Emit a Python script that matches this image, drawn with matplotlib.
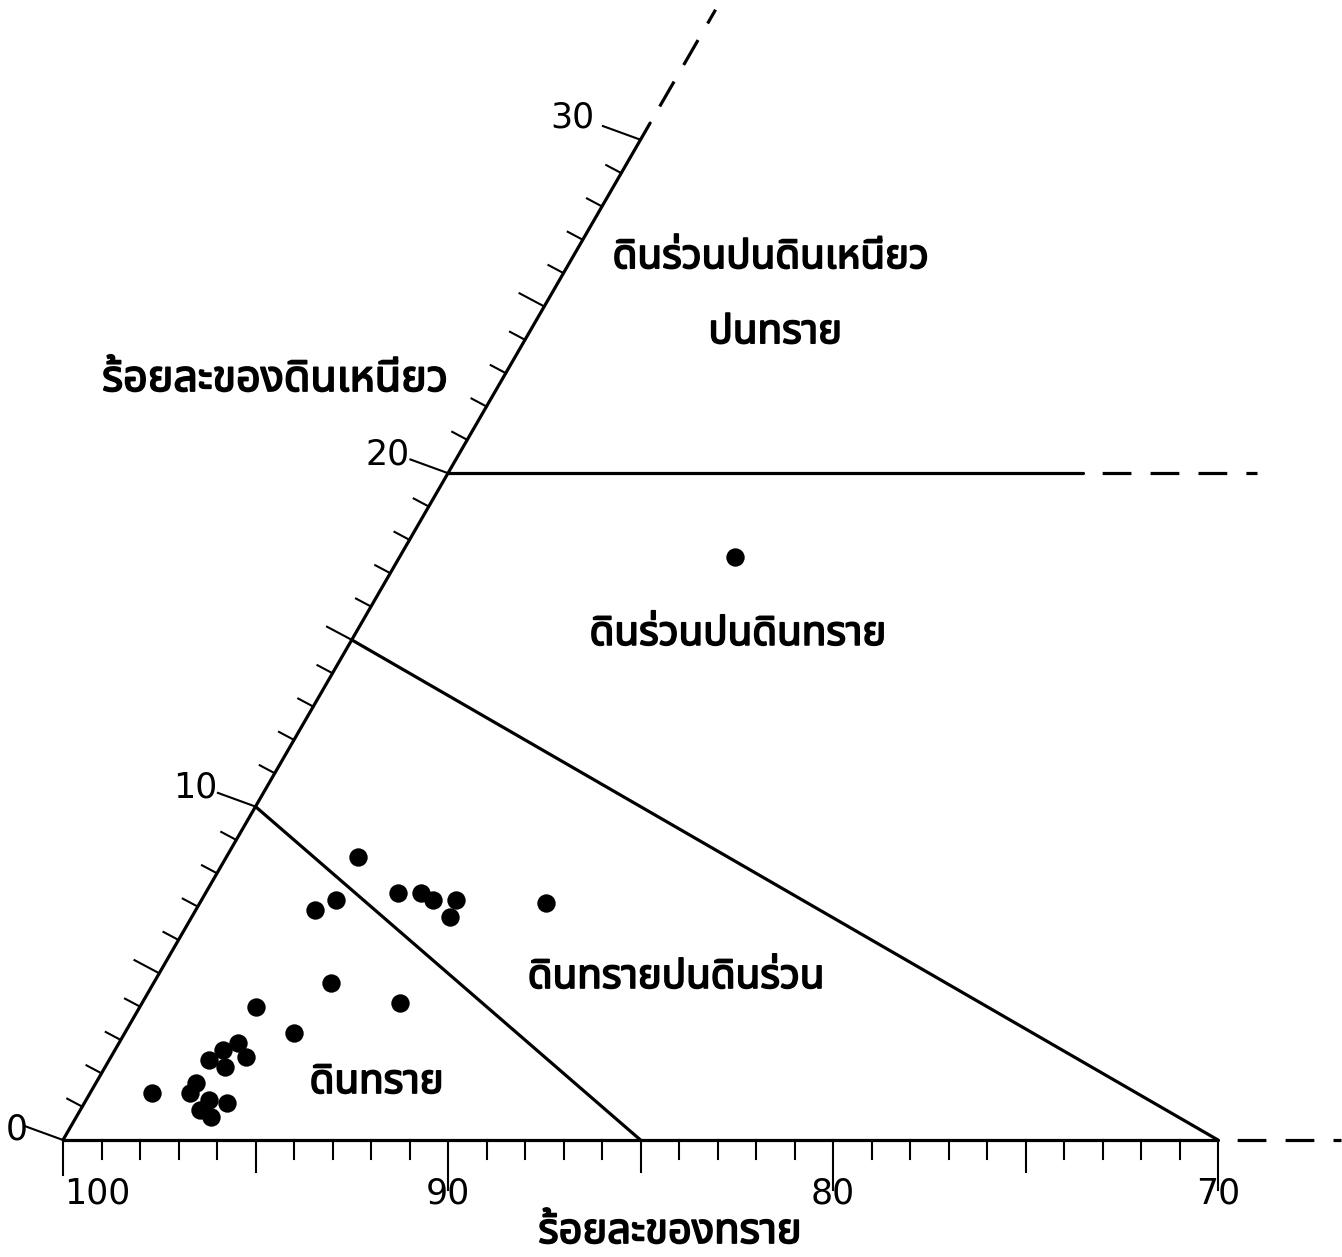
import numpy as np
import matplotlib
matplotlib.use("Agg")
import matplotlib.pyplot as plt
import matplotlib.patheffects as pe
from matplotlib import font_manager
from matplotlib.ft2font import FT2Font

# soil samples: percent sand and percent clay
sand = [73.8, 88.1, 90.0, 89.3, 87.6, 87.0, 86.8, 86.2, 86.6, 83.9,
        90.7, 89.2, 93.0, 92.4, 94.0, 94.5, 95.0, 94.0, 94.7, 97.0,
        95.7, 96.0, 95.6, 96.0, 95.8, 95.2]
clay = [17.5, 8.5, 6.9, 7.2, 7.4, 7.4, 7.2, 7.2, 6.7, 7.1,
        4.7, 4.1, 4.0, 3.2, 2.9, 2.7, 2.4, 2.5, 2.2, 1.4,
        1.7, 1.4, 1.2, 0.9, 0.7, 1.1]

# texture class boundaries, (sand, clay) end points
sand_boundary = [(90, 10), (85, 0)]
loamy_sand_boundary = [(85, 15), (70, 0)]
clay20_solid = [(80, 20), (63.5, 20)]
clay20_dashed = [(63.5, 20), (59.0, 20)]

sand_ticks = [100, 90, 80, 70]
clay_ticks = [0, 10, 20, 30]

class_labels = [
    ("ดินร่วนปนดินเหนียว", 68.4, 26.45),
    ("ปนทราย", 69.4, 24.2),
    ("ดินร่วนปนดินทราย", 74.9, 15.15),
    ("ดินทรายปนดินร่วน", 81.65, 4.86),
    ("ดินทราย", 91.0, 1.71),
]
x_title = "ร้อยละของทราย"
y_title = "ร้อยละของดินเหนียว"

PX = 1 / 38.5  # one output pixel in data units


def tern(s, c):
    s = np.asarray(s, dtype=float)
    c = np.asarray(c, dtype=float)
    return 100 - s - 0.5 * c, c * np.sqrt(3) / 2


def thai_font():
    names = []
    for f in font_manager.fontManager.ttflist:
        try:
            if 0x0E01 in FT2Font(f.fname).get_charmap():
                names.append(f.name)
        except Exception:
            pass
    for pref in ("Noto Sans Thai", "Noto Sans Thai UI", "Loma", "Garuda", "Waree"):
        if pref in names:
            return pref
    return names[0] if names else "DejaVu Sans"


THAI = thai_font()
heavy = [pe.withStroke(linewidth=1.3, foreground="black")]

fig = plt.figure(figsize=(13.42, 12.57), dpi=100)
ax = fig.add_axes([0, 0, 1, 1])
ax.set_xlim(-63 * PX, (1342 - 63) * PX)
ax.set_ylim(-117 * PX, 1140 * PX)
ax.set_aspect("equal")
ax.axis("off")

line_kw = dict(color="black", lw=2.3, solid_capstyle="round")
dash_kw = dict(color="black", lw=2.3, linestyle=(9, (9, 6)))

# frame: left (clay) edge and bottom (sand) edge
c_edge = np.array([0, 30.5])
ax.plot(*tern(100 - c_edge, c_edge), **line_kw)
c_edge = np.array([30.5, 33.9])
ax.plot(*tern(100 - c_edge, c_edge), **dash_kw)
ax.plot(*tern([100, 70], [0, 0]), **line_kw)
ax.plot(*tern([70, 66.8], [0, 0]), **dash_kw)

# class boundaries
for seg in (sand_boundary, loamy_sand_boundary, clay20_solid):
    s, c = zip(*seg)
    ax.plot(*tern(s, c), **line_kw)
s, c = zip(*clay20_dashed)
ax.plot(*tern(s, c), **dash_kw)

# bottom ticks, one per percent
for v in range(70, 101):
    x, y = tern(v, 0)
    if v % 10 == 0:
        ln = 50 if v != 100 else 35
    elif v % 5 == 0:
        ln = 32
    else:
        ln = 19
    ax.plot([x, x], [y, y - ln * PX], color="black", lw=1.5)

for v in sand_ticks:
    x, y = tern(v, 0)
    dx = 0.9 if v == 100 else 0.0
    ax.text(x + dx, y - 53 * PX, str(v), ha="center", va="center",
            fontsize=25, family="DejaVu Sans")

# left edge ticks
ang = np.deg2rad(152)
d = np.array([np.cos(ang), np.sin(ang)])
lab_ang = np.deg2rad(160)
ld = np.array([np.cos(lab_ang), np.sin(lab_ang)])
for v in range(0, 31):
    x, y = tern(100 - v, v)
    if v % 10 == 0:
        dd, ln = ld, 40
    elif v % 5 == 0:
        dd, ln = d, 28
    else:
        dd, ln = d, 17
    ax.plot([x, x + dd[0] * ln * PX], [y, y + dd[1] * ln * PX], color="black", lw=1.5)

for v in clay_ticks:
    x, y = tern(100 - v, v)
    if v == 0:
        off = (-46, 10)
    elif v == 30:
        off = (-68, 22)
    else:
        off = (-60, 19)
    ax.text(x + off[0] * PX, y + off[1] * PX, str(v), ha="center", va="center",
            fontsize=25, family="DejaVu Sans")

# samples
xs, ys = tern(sand, clay)
ax.scatter(xs, ys, s=175, color="black", zorder=3, linewidths=0)

for text, s, c in class_labels:
    x, y = tern(s, c)
    ax.text(x, y, text, ha="center", va="center", fontsize=29,
            fontweight="bold", family=[THAI, "DejaVu Sans"], path_effects=heavy)

ax.text(607 * PX, (1140 - 1232) * PX, x_title, ha="center", va="center",
        fontsize=30, fontweight="bold", family=[THAI, "DejaVu Sans"], path_effects=heavy)
ax.text(212 * PX, (1140 - 380) * PX, y_title, ha="center", va="center",
        fontsize=31, fontweight="bold", family=[THAI, "DejaVu Sans"], path_effects=heavy)

fig.savefig("out.png", dpi=100, facecolor="white")
